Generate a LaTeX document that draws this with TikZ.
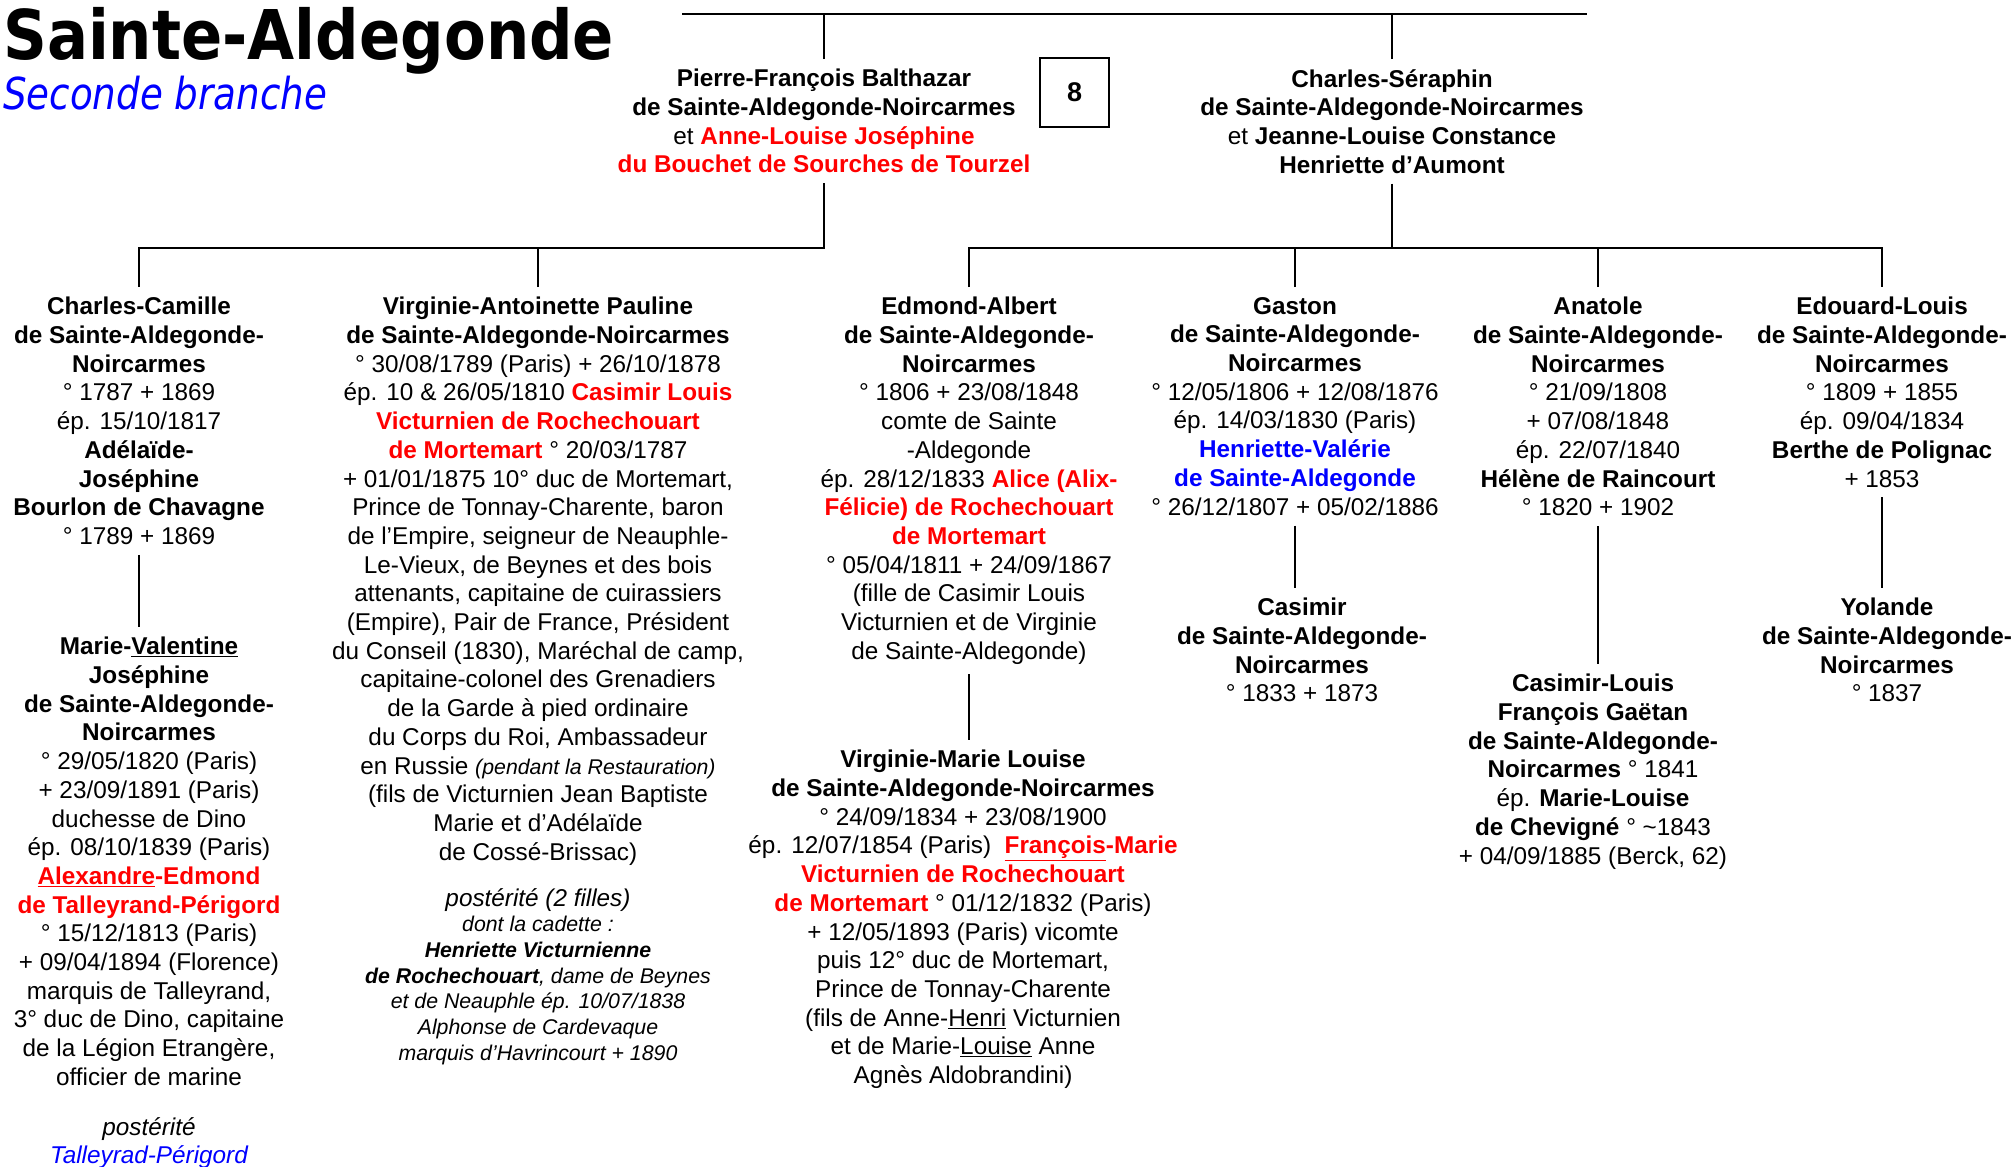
\documentclass[tikz,border=0pt]{standalone}
\usepackage{fontspec}
\setmainfont{Liberation Sans}
\newfontfamily\titlefont[FakeStretch=0.887]{DejaVu Sans}
\newfontfamily\subtitlefont[FakeStretch=0.846]{DejaVu Sans}
\usepackage{xcolor}
\usepackage{tikz}
\usetikzlibrary{calc}
\definecolor{alliancered}{RGB}{255,0,0}
\definecolor{branchblue}{RGB}{0,0,255}
\newcommand{\spouse}[1]{\textcolor{alliancered}{\bfseries #1}}
\newcommand{\cousin}[1]{\textcolor{branchblue}{\bfseries #1}}
\newcommand{\mainsize}{\fontsize{24.3}{28.7}\selectfont}
\newcommand{\smallsize}{\fontsize{21.3}{25.7}\selectfont}

\begin{document}
\begin{tikzpicture}[x=1pt, y=-1pt,
    tree/.style={line width=2.6pt},
    pers/.style={anchor=north, align=center, inner xsep=0pt, inner ysep=10pt, font=\mainsize},
    note/.style={anchor=north, align=center, inner sep=0pt, font=\mainsize\itshape}]
        \useasboundingbox (0,0) rectangle (2013,1167);

        % Title
        \node[anchor=base west, inner sep=0pt, font=\titlefont\fontsize{68.6}{72}\selectfont\bfseries] (title) at (3,59) {Sainte-Aldegonde};
        \node[anchor=base west, inner sep=0pt, text=branchblue, font=\subtitlefont\fontsize{44}{48}\selectfont\itshape] (subtitle) at (3,109) {Seconde branche};

        % Parents
        \node[pers] (pf) at (824,59) {\textbf{Pierre-François Balthazar}\\ \textbf{de Sainte-Aldegonde-Noircarmes}\\ et \spouse{Anne-Louise Joséphine}\\ \spouse{du Bouchet de Sourches de Tourzel}};
        \node[pers] (cs) at (1392,59) {\textbf{Charles-Séraphin}\\ \textbf{de Sainte-Aldegonde-Noircarmes}\\ et \textbf{Jeanne-Louise Constance}\\ \textbf{Henriette d’Aumont}};
        \node[draw, line width=1.5pt, minimum size=69pt, inner sep=0pt, font=\fontsize{27}{30}\selectfont\bfseries] (num) at (1074.5,92.5) {8};

        % Children of Pierre-Francois
        \node[pers] (cc) at (139,287) {\textbf{Charles-Camille}\\ \textbf{de Sainte-Aldegonde-}\\ \textbf{Noircarmes}\\ ° 1787 + 1869\\ ép. 15/10/1817\\ \textbf{Adélaïde-}\\ \textbf{Joséphine}\\ \textbf{Bourlon de Chavagne}\\ ° 1789 + 1869};
        \node[pers] (mv) at (149,627) {\textbf{Marie-\underline{Valentine}}\\ \textbf{Joséphine}\\ \textbf{de Sainte-Aldegonde-}\\ \textbf{Noircarmes}\\ ° 29/05/1820 (Paris)\\ + 23/09/1891 (Paris)\\ duchesse de Dino\\ ép. 08/10/1839 (Paris)\\ \spouse{\underline{Alexandre}-Edmond}\\ \spouse{de Talleyrand-Périgord}\\ ° 15/12/1813 (Paris)\\ + 09/04/1894 (Florence)\\ marquis de Talleyrand,\\ 3° duc de Dino, capitaine\\ de la Légion Etrangère,\\ officier de marine};
        \node[note] (mvpost) at (149,1117) {postérité\\ \textcolor{branchblue}{Talleyrad-Périgord}};

        \node[pers] (va) at (538,287) {\textbf{Virginie-Antoinette Pauline}\\ \textbf{de Sainte-Aldegonde-Noircarmes}\\ ° 30/08/1789 (Paris) + 26/10/1878\\ ép. 10 \& 26/05/1810 \spouse{Casimir Louis}\\ \spouse{Victurnien de Rochechouart}\\ \spouse{de Mortemart} ° 20/03/1787\\ + 01/01/1875 10° duc de Mortemart,\\ Prince de Tonnay-Charente, baron\\ de l’Empire, seigneur de Neauphle-\\ Le-Vieux, de Beynes et des bois\\ attenants, capitaine de cuirassiers\\ (Empire), Pair de France, Président\\ du Conseil (1830), Maréchal de camp,\\ capitaine-colonel des Grenadiers\\ de la Garde à pied ordinaire\\ du Corps du Roi, Ambassadeur\\ en Russie {\smallsize\itshape (pendant la Restauration)}\\ (fils de Victurnien Jean Baptiste\\ Marie et d’Adélaïde\\ de Cossé-Brissac)};
        \node[note, font=\smallsize\itshape] (vapost) at (538,888) {{\mainsize postérité (2 filles)}\\ dont la cadette :\\ \textbf{Henriette Victurnienne}\\ \textbf{de Rochechouart}, dame de Beynes\\ et de Neauphle ép. 10/07/1838\\ Alphonse de Cardevaque\\ marquis d’Havrincourt + 1890};

        % Children of Charles-Seraphin
        \node[pers] (ea) at (969,287) {\textbf{Edmond-Albert}\\ \textbf{de Sainte-Aldegonde-}\\ \textbf{Noircarmes}\\ ° 1806 + 23/08/1848\\ comte de Sainte\\ -Aldegonde\\ ép. 28/12/1833 \spouse{Alice (Alix-}\\ \spouse{Félicie) de Rochechouart}\\ \spouse{de Mortemart}\\ ° 05/04/1811 + 24/09/1867\\ (fille de Casimir Louis\\ Victurnien et de Virginie\\ de Sainte-Aldegonde)};
        \node[pers] (vm) at (963,740) {\textbf{Virginie-Marie Louise}\\ \textbf{de Sainte-Aldegonde-Noircarmes}\\ ° 24/09/1834 + 23/08/1900\\ ép. 12/07/1854 (Paris) \ \spouse{\underline{François}-Marie}\\ \spouse{Victurnien de Rochechouart}\\ \spouse{de Mortemart} ° 01/12/1832 (Paris)\\ + 12/05/1893 (Paris) vicomte\\ puis 12° duc de Mortemart,\\ Prince de Tonnay-Charente\\ (fils de Anne-\underline{Henri} Victurnien\\ et de Marie-\underline{Louise} Anne\\ Agnès Aldobrandini)};

        \node[pers] (ga) at (1295,287) {\textbf{Gaston}\\ \textbf{de Sainte-Aldegonde-}\\ \textbf{Noircarmes}\\ ° 12/05/1806 + 12/08/1876\\ ép. 14/03/1830 (Paris)\\ \cousin{Henriette-Valérie}\\ \cousin{de Sainte-Aldegonde}\\ ° 26/12/1807 + 05/02/1886};
        \node[pers] (ca) at (1302,588) {\textbf{Casimir}\\ \textbf{de Sainte-Aldegonde-}\\ \textbf{Noircarmes}\\ ° 1833 + 1873};

        \node[pers] (an) at (1598,287) {\textbf{Anatole}\\ \textbf{de Sainte-Aldegonde-}\\ \textbf{Noircarmes}\\ ° 21/09/1808\\ + 07/08/1848\\ ép. 22/07/1840\\ \textbf{Hélène de Raincourt}\\ ° 1820 + 1902};
        \node[pers] (cl) at (1593,664) {\textbf{Casimir-Louis}\\ \textbf{François Gaëtan}\\ \textbf{de Sainte-Aldegonde-}\\ \textbf{Noircarmes} ° 1841\\ ép. \textbf{Marie-Louise}\\ \textbf{de Chevigné} ° \textasciitilde1843\\ + 04/09/1885 (Berck, 62)};

        \node[pers] (el) at (1882,287) {\textbf{Edouard-Louis}\\ \textbf{de Sainte-Aldegonde-}\\ \textbf{Noircarmes}\\ ° 1809 + 1855\\ ép. 09/04/1834\\ \textbf{Berthe de Polignac}\\ + 1853};
        \node[pers] (yo) at (1887,588) {\textbf{Yolande}\\ \textbf{de Sainte-Aldegonde-}\\ \textbf{Noircarmes}\\ ° 1837};

        % Top bar
        \coordinate (barL) at (682,14);
        \coordinate (barR) at (1587,14);
        \draw[tree] (barL) -- (barR);
        \draw[tree] (pf.north) -- (pf.north |- barL);
        \draw[tree] (cs.north) -- (cs.north |- barL);

        % Sibling bars
        \coordinate (sib) at (0,248);
        \draw[tree] (pf.south) -- (pf.south |- sib) -| (cc.north);
        \draw[tree] (va.north) -- (va.north |- sib);
        \draw[tree] (cs.south) -- (cs.south |- sib);
        \draw[tree] (ea.north) |- (el.north |- sib) -- (el.north);
        \draw[tree] (ga.north) -- (ga.north |- sib);
        \draw[tree] (an.north) -- (an.north |- sib);

        % Descendants
        \draw[tree] (cc.south) -- (cc.south |- mv.north);
        \draw[tree] (ea.south) -- (ea.south |- vm.north);
        \draw[tree] (ga.south) -- (ga.south |- ca.north);
        \draw[tree] (an.south) -- (an.south |- cl.north);
        \draw[tree] (el.south) -- (el.south |- yo.north);
    \end{tikzpicture}
\end{document}
